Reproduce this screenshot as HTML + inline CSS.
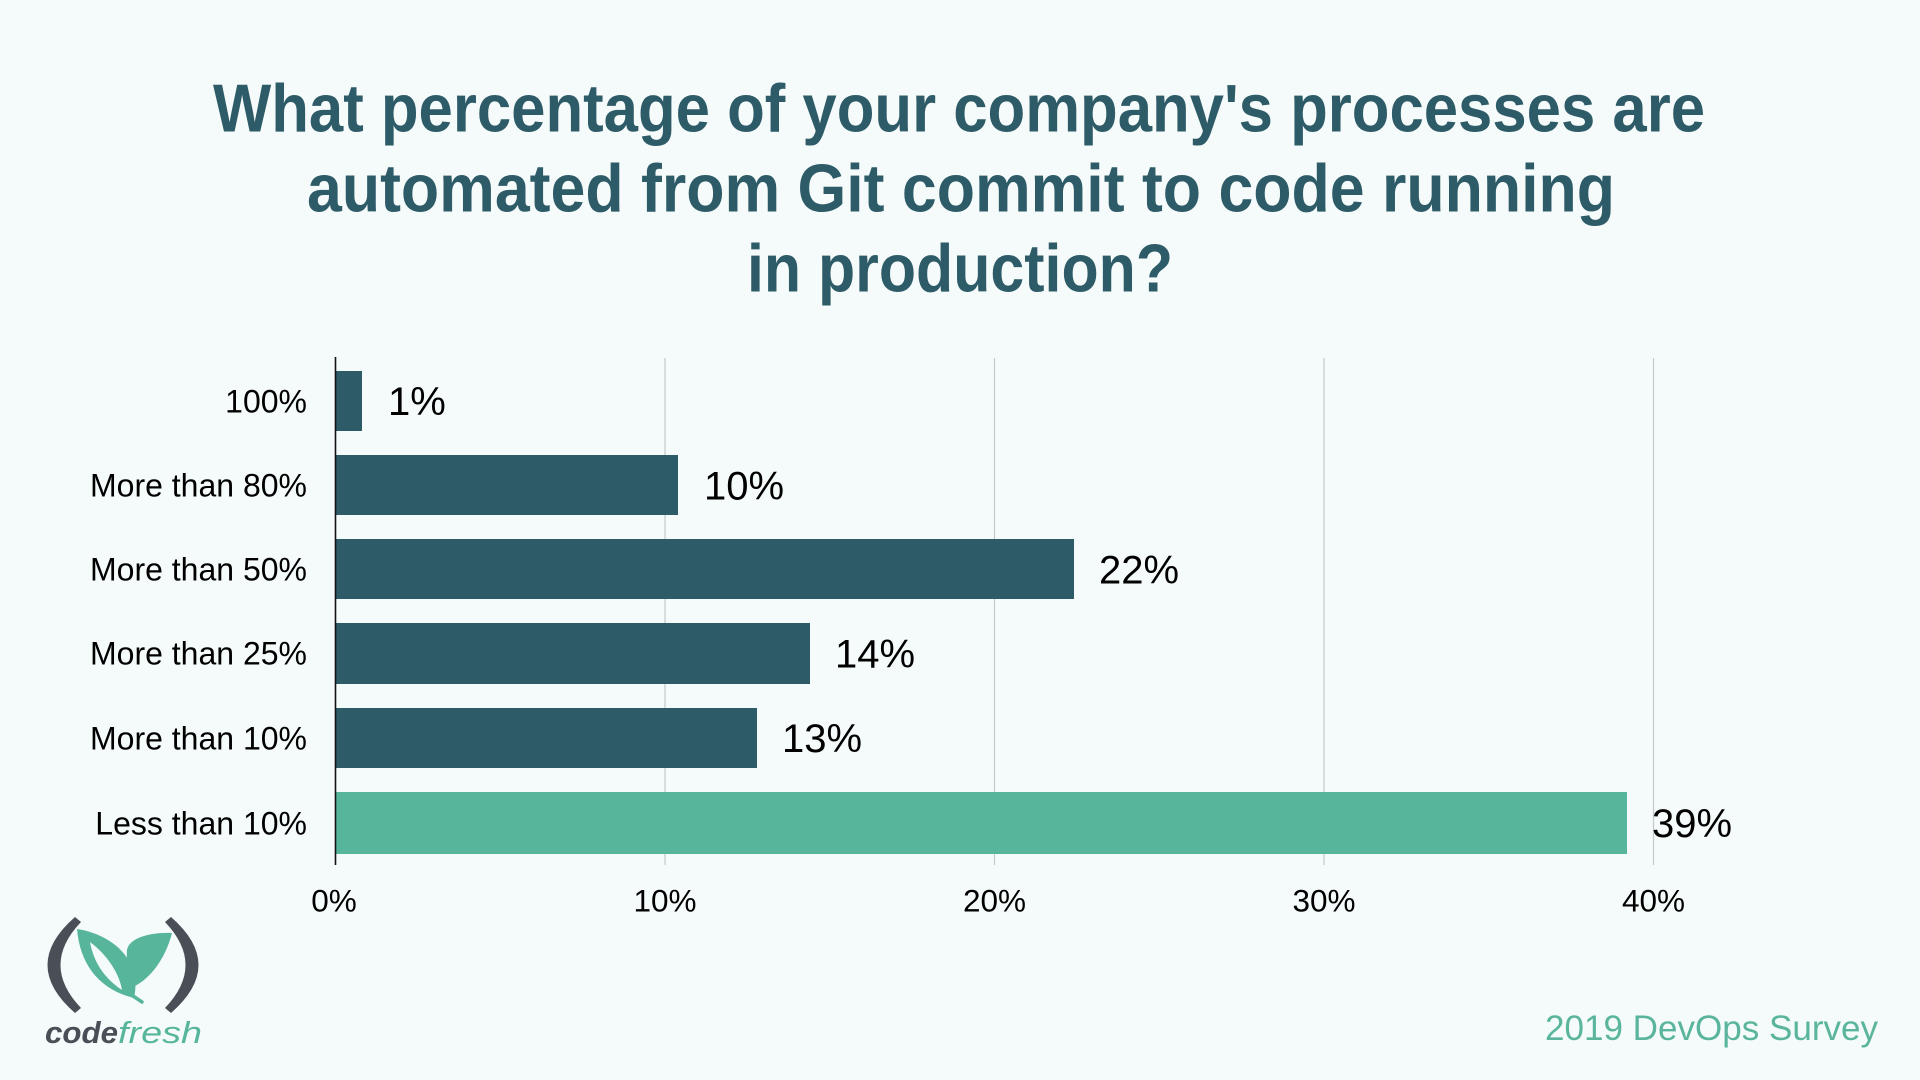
<!DOCTYPE html>
<html>
<head>
<meta charset="utf-8">
<style>
  html, body { margin: 0; padding: 0; background: #f5fbfa; }
  body { width: 1920px; height: 1080px; overflow: hidden; }
  svg { display: block; }
  text { font-family: "Liberation Sans", Arial, sans-serif; }
</style>
</head>
<body>
<svg width="1920" height="1080" viewBox="0 0 1920 1080" xmlns="http://www.w3.org/2000/svg">
  <rect x="0" y="0" width="1920" height="1080" fill="#f5fbfa"/>

  <!-- Title -->
  <g fill="#2e5b68" font-weight="bold" font-size="68">
    <text x="213" y="131.5" textLength="1492" lengthAdjust="spacingAndGlyphs">What percentage of your company's processes are</text>
    <text x="307" y="211.5" textLength="1308" lengthAdjust="spacingAndGlyphs">automated from Git commit to code running</text>
    <text x="747" y="291.5" textLength="426" lengthAdjust="spacingAndGlyphs">in production?</text>
  </g>

  <!-- Gridlines -->
  <g stroke="#c3c8c8" stroke-width="1.2">
    <line x1="665" y1="358" x2="665" y2="865"/>
    <line x1="994.5" y1="358" x2="994.5" y2="865"/>
    <line x1="1324" y1="358" x2="1324" y2="865"/>
    <line x1="1653.5" y1="358" x2="1653.5" y2="865"/>
  </g>

  <!-- Bars -->
  <g fill="#2e5b68">
    <rect x="335.5" y="371" width="26.5" height="60"/>
    <rect x="335.5" y="455" width="342.5" height="60"/>
    <rect x="335.5" y="539" width="738.5" height="60"/>
    <rect x="335.5" y="623" width="474.5" height="61"/>
    <rect x="335.5" y="708" width="421.5" height="60"/>
  </g>
  <rect x="335.5" y="792" width="1291.5" height="62" fill="#56b59b"/>

  <!-- Axis line -->
  <line x1="335.5" y1="357" x2="335.5" y2="865" stroke="#111" stroke-width="1.6"/>

  <!-- Category labels -->
  <g fill="#000" font-size="32" text-anchor="end">
    <text x="307" y="412.5">100%</text>
    <text x="307" y="496.5">More than 80%</text>
    <text x="307" y="580.5">More than 50%</text>
    <text x="307" y="664.5">More than 25%</text>
    <text x="307" y="749.5">More than 10%</text>
    <text x="307" y="834.5">Less than 10%</text>
  </g>

  <!-- Value labels -->
  <g fill="#000" font-size="40">
    <text x="388" y="415">1%</text>
    <text x="704" y="499.5">10%</text>
    <text x="1099" y="583.5">22%</text>
    <text x="835" y="667.5">14%</text>
    <text x="782" y="752">13%</text>
    <text x="1652" y="837">39%</text>
  </g>

  <!-- X tick labels -->
  <g fill="#000" font-size="31.5" text-anchor="middle">
    <text x="334" y="911.7">0%</text>
    <text x="665" y="911.7">10%</text>
    <text x="994.5" y="911.7">20%</text>
    <text x="1324" y="911.7">30%</text>
    <text x="1653.5" y="911.7">40%</text>
  </g>

  <!-- Footer -->
  <text x="1545" y="1040" font-size="35" fill="#5ab59c" textLength="333" lengthAdjust="spacingAndGlyphs">2019 DevOps Survey</text>

  <!-- Logo -->
  <g>
    <path d="M75,917 Q20,965 75,1013 L81,1008 Q40,965 81,922 Z" fill="#4a4e57"/>
    <path d="M171,917 Q226,965 171,1013 L165,1008 Q206,965 165,922 Z" fill="#4a4e57"/>
    <path d="M77,929 C115,935 142,962 134,998 C100,990 80,965 77,929 Z" fill="#56b59b"/>
    <path d="M90,942 C106,954 119,972 122,990 C107,980 94,965 90,942 Z" fill="#f5fbfa"/>
    <path d="M172,933 C150,932 129,938 127,950 C126,965 130,978 135,986 C150,978 165,960 172,933 Z" fill="#56b59b"/>
    <line x1="127" y1="992" x2="142" y2="1002" stroke="#56b59b" stroke-width="3.5" stroke-linecap="round"/>
    <text x="45" y="1043" font-size="31" font-weight="bold" font-style="italic" fill="#4a4e57" textLength="73" lengthAdjust="spacingAndGlyphs">code</text>
    <text x="118" y="1043" font-size="31" font-style="italic" fill="#56b59b" textLength="84" lengthAdjust="spacingAndGlyphs">fresh</text>
  </g>
</svg>
</body>
</html>
